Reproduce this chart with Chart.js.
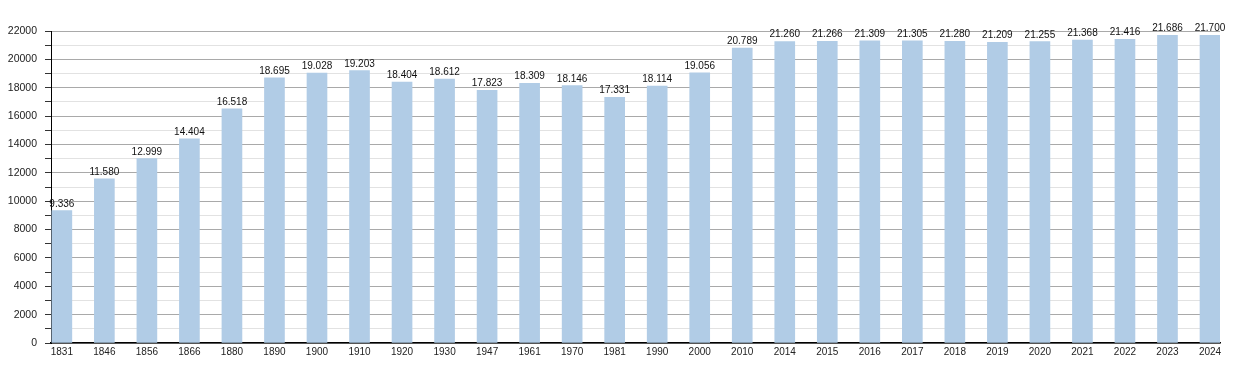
<!DOCTYPE html>
<html>
<head>
<meta charset="utf-8">
<script src="https://cdn.jsdelivr.net/npm/chart.js@4/dist/chart.umd.min.js"></script>
<style>
html,body{margin:0;padding:0;background:#fff;}
canvas{display:block;}
</style>
</head>
<body>
<canvas id="c" width="1250" height="373"></canvas>
<script>
const years = ["1831","1846","1856","1866","1880","1890","1900","1910","1920","1930","1947","1961","1970","1981","1990","2000","2010","2014","2015","2016","2017","2018","2019","2020","2021","2022","2023","2024"];
const population = [9336,11580,12999,14404,16518,18695,19028,19203,18404,18612,17823,18309,18146,17331,18114,19056,20789,21260,21266,21309,21305,21280,21209,21255,21368,21416,21686,21700];
const yMin = 0;
const yMax = 22000;
const yStep = 1000;
const yLabelStep = 2000;

function fmt(v){
  const th = Math.floor(v/1000);
  const r = String(v % 1000).padStart(3,'0');
  return th + '.' + r;
}

const valueLabels = {
  id: 'valueLabels',
  afterDatasetsDraw(chart){
    const ctx = chart.ctx;
    const meta = chart.getDatasetMeta(0);
    ctx.save();
    ctx.font = '10px "Liberation Sans", Arial, sans-serif';
    ctx.fillStyle = '#111';
    ctx.textAlign = 'center';
    ctx.textBaseline = 'alphabetic';
    meta.data.forEach((el, i) => {
      ctx.fillText(fmt(population[i]), el.x, el.y - 4);
    });
    ctx.restore();
  }
};

new Chart(document.getElementById('c'), {
  type: 'bar',
  data: {
    datasets: [{
      data: population.map((v, i) => ({x: i, y: v})),
      backgroundColor: '#b1cce6',
      borderWidth: 0,
      barThickness: 20
    }]
  },
  options: {
    responsive: false,
    animation: false,
    devicePixelRatio: 1,
    layout: {padding: {top: 31, right: 30, left: 0, bottom: 0}},
    plugins: {legend: {display: false}, tooltip: {enabled: false}},
    scales: {
      x: {
        type: 'linear',
        offset: false,
        bounds: 'data',
        min: -0.255,
        max: years.length - 1 + 0.235,
        afterBuildTicks: s => { s.ticks = years.map((_, i) => ({value: i})); },
        afterFit: s => { s.height = 30; },
        grid: {display: false, drawTicks: false, offset: false},
        border: {display: true, color: '#000', width: 1.5},
        ticks: {
          autoSkip: false, maxRotation: 0, minRotation: 0, padding: 3,
          color: '#222',
          font: {family: '"Liberation Sans", Arial, sans-serif', size: 10},
          callback: v => years[v]
        }
      },
      y: {
        min: yMin,
        max: yMax,
        afterFit: s => { s.width = 51; },
        grid: {
          color: c => (c.tick && c.tick.value % yLabelStep === 0) ? '#a9a9a9' : '#e2e2e2',
          tickColor: '#333',
          tickLength: 6,
          drawTicks: true,
          lineWidth: 1
        },
        border: {display: true, color: '#000', width: 1},
        ticks: {
          stepSize: yStep,
          maxTicksLimit: 40,
          autoSkip: false,
          padding: 8,
          color: '#222',
          font: {family: '"Liberation Sans", Arial, sans-serif', size: 10.5},
          callback: v => (v % yLabelStep === 0) ? String(v) : ''
        }
      }
    }
  },
  plugins: [valueLabels]
});
</script>
</body>
</html>
